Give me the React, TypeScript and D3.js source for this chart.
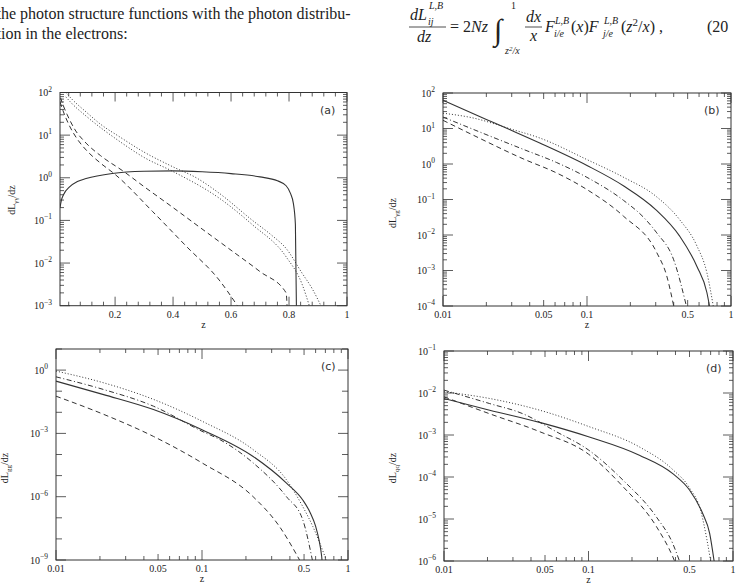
import React from "react";
import * as d3 from "d3";

type Pt = [number, number];

// ---------- Panel (a): dL_γγ/dz, linear z ----------
const aSolid: Pt[] = [[0.01,0.2],[0.015,0.3],[0.022,0.4],[0.044,0.62],[0.07,0.82],[0.1,0.96],[0.19,1.26],[0.3,1.42],[0.4,1.45],[0.5,1.38],[0.6,1.25],[0.7,1.05],[0.76,0.85],[0.79,0.65],[0.805,0.43],[0.815,0.25],[0.822,0.08],[0.826,0.0005]];
const aDotUpper: Pt[] = [[0.03,100],[0.05,71],[0.1,35],[0.15,18],[0.216,9.1],[0.3,4.0],[0.4,1.8],[0.48,1.0],[0.56,0.43],[0.674,0.1],[0.74,0.045],[0.79,0.022],[0.845,0.0058],[0.88,0.0025],[0.91,0.001]];
const aDotLower: Pt[] = [[0.03,79],[0.05,56],[0.1,28],[0.216,7.1],[0.3,3.0],[0.4,1.4],[0.56,0.33],[0.674,0.079],[0.79,0.014],[0.845,0.0032],[0.87,0.001]];
const aDashUpper: Pt[] = [[0.012,75],[0.02,52],[0.035,30],[0.06,14],[0.1,6.5],[0.15,3.3],[0.23,1.4],[0.3,0.62],[0.4,0.2],[0.5,0.063],[0.6,0.02],[0.7,0.0063],[0.79,0.002],[0.795,0.0005]];
const aDashLower: Pt[] = [[0.01,60],[0.02,38],[0.04,18],[0.07,8],[0.1,4.5],[0.15,2.2],[0.2,1.2],[0.33,0.16],[0.445,0.025],[0.559,0.004],[0.622,0.001]];

// ---------- Panel (b): dL_γg/dz ----------
const bSolid: Pt[] = [[0.01,62],[0.02,18],[0.029,9.3],[0.047,3.9],[0.1,0.91],[0.18,0.24],[0.3,0.052],[0.44,0.0093],[0.58,0.0013],[0.68,0.00024],[0.72,0.00007]];
const bDotted: Pt[] = [[0.01,27],[0.016,20],[0.03,9.5],[0.047,5.4],[0.1,1.33],[0.18,0.42],[0.3,0.125],[0.44,0.027],[0.58,0.0049],[0.68,0.00087],[0.76,0.00008]];
const bDashDot: Pt[] = [[0.01,21],[0.021,6.2],[0.036,2.6],[0.0615,1.1],[0.1,0.42],[0.179,0.095],[0.25,0.03],[0.305,0.0115],[0.4,0.002],[0.49,0.0001]];
const bDashed: Pt[] = [[0.01,17],[0.0162,6.5],[0.036,1.4],[0.0615,0.56],[0.1,0.19],[0.179,0.034],[0.305,0.0032],[0.358,0.0007],[0.4,0.0001]];

// ---------- Panel (c): dL_gg/dz ----------
const cDotted: Pt[] = [[0.01,0.9],[0.0212,0.25],[0.0465,0.041],[0.1,0.0038],[0.224,1.7e-4],[0.379,6.3e-6],[0.49,3.4e-7],[0.575,3.8e-8],[0.71,1e-9]];
const cDashDot: Pt[] = [[0.01,0.48],[0.0212,0.12],[0.0465,0.0195],[0.1,0.00126],[0.133,5e-4],[0.224,4e-5],[0.379,1e-6],[0.49,8e-8],[0.57,1e-9]];
const cSolid: Pt[] = [[0.01,0.3],[0.0212,0.069],[0.0465,0.0135],[0.1,0.0015],[0.224,8.1e-5],[0.379,4.4e-6],[0.49,7e-7],[0.55,1.8e-7],[0.6,4e-8],[0.635,8e-9],[0.66,1.5e-9],[0.668,6e-10]];
const cDashed: Pt[] = [[0.01,0.058],[0.0212,0.008],[0.0465,7.2e-4],[0.1,4e-5],[0.224,1e-6],[0.34,3.8e-8],[0.466,1e-9]];

// ---------- Panel (d): dL_qq/dz ----------
const dDotted: Pt[] = [[0.01,1.07e-2],[0.0207,7.4e-3],[0.0459,3.9e-3],[0.1,1.6e-3],[0.225,5.2e-4],[0.383,1.5e-4],[0.5,5.5e-5],[0.6,1.5e-5],[0.66,3.2e-6],[0.7,1e-6]];
const dDashDot: Pt[] = [[0.01,1.17e-2],[0.0207,5.6e-3],[0.0352,3.2e-3],[0.0598,1.2e-3],[0.1,4.4e-4],[0.174,8.3e-5],[0.296,1.1e-5],[0.383,2.6e-6],[0.426,1e-6]];
const dSolid: Pt[] = [[0.01,7.4e-3],[0.0207,3.9e-3],[0.0459,2.0e-3],[0.1,9.1e-4],[0.225,3.3e-4],[0.383,1.2e-4],[0.5,4.9e-5],[0.617,1.35e-5],[0.69,4.5e-6],[0.74,1e-6]];
const dDashed: Pt[] = [[0.01,8.1e-3],[0.0207,3.2e-3],[0.0459,1.2e-3],[0.1,3.5e-4],[0.174,5.8e-5],[0.296,6.5e-6],[0.383,1.26e-6],[0.394,1e-6]];

// ---------- tick labels ----------
const linXTicks = [0.2, 0.4, 0.6, 0.8, 1];
const linXTickLabels = ["0.2", "0.4", "0.6", "0.8", "1"];
const logXTicks = [0.01, 0.05, 0.1, 0.5, 1];
const logXTickLabels = ["0.01", "0.05", "0.1", "0.5", "1"];

type Style = "solid" | "dotted" | "dashed" | "dashdot";
const DASH: Record<Style, string | undefined> = {
  solid: undefined,
  dotted: "1 2",
  dashed: "5 3.5",
  dashdot: "5 2.5 1 2.5",
};

const SERIF = "'Liberation Serif', 'Times New Roman', 'DejaVu Serif', serif";
const INK = "#333";

interface PanelProps {
  id: string;
  x0: number; x1: number; y0: number; y1: number;
  xLog: boolean;
  yDomain: [number, number];
  yLabeled: number[];
  yMinor: boolean;
  series: { data: Pt[]; style: Style }[];
  tag: string;
  sub: string;
  titleX: number; titleY: number;
}

function Panel(p: PanelProps) {
  const x: any = p.xLog
    ? d3.scaleLog().domain([0.01, 1]).range([p.x0, p.x1])
    : d3.scaleLinear().domain([0.01, 1]).range([p.x0, p.x1]);
  const y = d3.scaleLog().domain(p.yDomain).range([p.y1, p.y0]);
  const line = d3.line<Pt>().x(d => x(d[0])).y(d => y(d[1])).curve(d3.curveMonotoneX);

  const xt: { v: number; len: number }[] = [];
  if (p.xLog) {
    for (let e = -2; e <= 0; e++) {
      for (let k = 1; k <= 9; k++) {
        const v = k * Math.pow(10, e);
        if (v > 1.0001) break;
        xt.push({ v, len: k === 1 ? 10 : k === 5 ? 6 : 4 });
      }
    }
  } else {
    for (let i = 1; i <= 25; i++) {
      const v = i * 0.04;
      const major = i % 5 === 0;
      xt.push({ v, len: major ? 9 : 4 });
    }
  }
  const yt: { v: number; len: number }[] = [];
  const e0 = Math.round(Math.log10(p.yDomain[0]));
  const e1 = Math.round(Math.log10(p.yDomain[1]));
  for (let e = e0; e <= e1; e++) {
    const base = Math.pow(10, e);
    yt.push({ v: base, len: p.yLabeled.includes(e) ? 10 : 6 });
    if (p.yMinor && e < e1) {
      for (let k = 2; k <= 9; k++) yt.push({ v: k * base, len: 4 });
    }
  }

  const xTickVals = p.xLog ? logXTicks : linXTicks;
  const xTickLabs = p.xLog ? logXTickLabels : linXTickLabels;

  return (
    <g>
      <defs>
        <clipPath id={p.id}>
          <rect x={p.x0} y={p.y0} width={p.x1 - p.x0} height={p.y1 - p.y0} />
        </clipPath>
      </defs>
      <rect x={p.x0} y={p.y0} width={p.x1 - p.x0} height={p.y1 - p.y0} fill="none" stroke={INK} strokeWidth={1} />
      {xt.map((t, i) => (
        <g key={"xt" + i} stroke={INK} strokeWidth={0.8}>
          <line x1={x(t.v)} x2={x(t.v)} y1={p.y1} y2={p.y1 - t.len} />
          <line x1={x(t.v)} x2={x(t.v)} y1={p.y0} y2={p.y0 + t.len} />
        </g>
      ))}
      {yt.map((t, i) => (
        <g key={"yt" + i} stroke={INK} strokeWidth={0.8}>
          <line x1={p.x0} x2={p.x0 + t.len} y1={y(t.v)} y2={y(t.v)} />
          <line x1={p.x1} x2={p.x1 - t.len} y1={y(t.v)} y2={y(t.v)} />
        </g>
      ))}
      {xTickVals.map((v, i) => (
        <text key={"xl" + i} x={x(v)} y={p.y1 + 12} textAnchor="middle" fontSize={10} fontFamily={SERIF} fill="#222">
          {xTickLabs[i]}
        </text>
      ))}
      {p.yLabeled.map(e => (
        <text key={"yl" + e} x={p.x0 - 8} y={y(Math.pow(10, e)) + 3.5} textAnchor="end" fontSize={10} fontFamily={SERIF} fill="#222">
          10<tspan dy={-4.5} fontSize={7.5}>{e < 0 ? "\u2212" + Math.abs(e) : String(e)}</tspan>
        </text>
      ))}
      <text x={(p.x0 + p.x1) / 2} y={p.y1 + 22} textAnchor="middle" fontSize={10} fontFamily={SERIF} fill="#222">z</text>
      <text transform={`translate(${p.titleX},${p.titleY}) rotate(-90)`} textAnchor="middle" fontSize={10} fontFamily={SERIF} fill="#222">
        dL<tspan dy={2.5} fontSize={7}>{p.sub}</tspan><tspan dy={-2.5}>/dz</tspan>
      </text>
      <text x={p.x1 - 27} y={p.y0 + 21} fontSize={11} fontFamily="'DejaVu Sans', sans-serif" fill="#333">{p.tag}</text>
      <g clipPath={`url(#${p.id})`}>
        {p.series.map((s, i) => (
          <path key={"s" + i} d={line(s.data) || ""} fill="none" stroke={INK}
            strokeWidth={s.style === "solid" ? 1.1 : 1} strokeDasharray={DASH[s.style]} />
        ))}
      </g>
    </g>
  );
}

function Equation() {
  const it = { fontFamily: SERIF, fontStyle: "italic" as const, fill: "#222" };
  const rm = { fontFamily: SERIF, fill: "#222" };
  return (
    <g>
      <text x={410} y={20} fontSize={16} {...it}>dL</text>
      <text x={429} y={9} fontSize={10} {...it}>L,B</text>
      <text x={428} y={25} fontSize={10} {...it}>ij</text>
      <line x1={409} x2={446} y1={27} y2={27} stroke="#222" strokeWidth={0.8} />
      <text x={417} y={42} fontSize={16} {...it}>dz</text>
      <text x={450} y={32} fontSize={16} {...rm}>= 2<tspan {...it}>Nz</tspan></text>
      <text x={494} y={40} fontSize={30} {...rm}>∫</text>
      <text x={511} y={9} fontSize={10} {...rm}>1</text>
      <text x={505} y={54} fontSize={10} {...it}>z<tspan dy={-3} fontSize={7}>2</tspan><tspan dy={3}>/x</tspan></text>
      <text x={526} y={22} fontSize={16} {...it}>dx</text>
      <line x1={525} x2={542} y1={27} y2={27} stroke="#222" strokeWidth={0.8} />
      <text x={530} y={41} fontSize={16} {...it}>x</text>
      <text x={545} y={32} fontSize={16} {...it}>F</text>
      <text x={555} y={24} fontSize={10} {...it}>L,B</text>
      <text x={554} y={37} fontSize={10} {...it}>i/e</text>
      <text x={571} y={32} fontSize={16} {...rm}>(<tspan {...it}>x</tspan>)<tspan {...it}>F</tspan></text>
      <text x={604} y={24} fontSize={10} {...it}>L,B</text>
      <text x={603} y={37} fontSize={10} {...it}>j/e</text>
      <text x={621} y={32} fontSize={16} {...rm}>(<tspan {...it}>z</tspan><tspan dy={-6} fontSize={11}>2</tspan><tspan dy={6}>/</tspan><tspan {...it}>x</tspan>) ,</text>
      <text x={707} y={32} fontSize={16} {...rm}>(20</text>
    </g>
  );
}

export default function App() {
  return (
    <svg width={738} height={588} viewBox="0 0 738 588" style={{ position: "absolute", left: 0, top: 0, background: "#fff" }}>
      <rect x={0} y={0} width={738} height={588} fill="#fff" />
      <text x={-3.5} y={19} fontSize={16} fontFamily={SERIF} fill="#222">the photon structure functions with the photon distribu-</text>
      <text x={-3.5} y={39} fontSize={16} fontFamily={SERIF} fill="#222">tion in the electrons:</text>
      <Equation />
      <Panel id="ca" x0={60} x1={347} y0={92.5} y1={305.7} xLog={false} yDomain={[1e-3, 1e2]}
        yLabeled={[-3, -2, -1, 0, 1, 2]} yMinor={true}
        series={[
          { data: aSolid, style: "solid" },
          { data: aDotUpper, style: "dotted" },
          { data: aDotLower, style: "dotted" },
          { data: aDashUpper, style: "dashed" },
          { data: aDashLower, style: "dashed" },
        ]}
        tag="(a)" sub="γγ" titleX={15} titleY={200} />
      <Panel id="cb" x0={443} x1={731} y0={93} y1={306} xLog={true} yDomain={[1e-4, 1e2]}
        yLabeled={[-4, -3, -2, -1, 0, 1, 2]} yMinor={true}
        series={[
          { data: bSolid, style: "solid" },
          { data: bDotted, style: "dotted" },
          { data: bDashDot, style: "dashdot" },
          { data: bDashed, style: "dashed" },
        ]}
        tag="(b)" sub="γg" titleX={396} titleY={213} />
      <Panel id="cc" x0={56} x1={348} y0={349} y1={560} xLog={true} yDomain={[1e-9, 1e1]}
        yLabeled={[-9, -6, -3, 0]} yMinor={false}
        series={[
          { data: cSolid, style: "solid" },
          { data: cDotted, style: "dotted" },
          { data: cDashDot, style: "dashdot" },
          { data: cDashed, style: "dashed" },
        ]}
        tag="(c)" sub="gg" titleX={8} titleY={468} />
      <Panel id="cd" x0={444} x1={733} y0={351} y1={561} xLog={true} yDomain={[1e-6, 1e-1]}
        yLabeled={[-6, -5, -4, -3, -2, -1]} yMinor={true}
        series={[
          { data: dSolid, style: "solid" },
          { data: dDotted, style: "dotted" },
          { data: dDashDot, style: "dashdot" },
          { data: dDashed, style: "dashed" },
        ]}
        tag="(d)" sub="qq" titleX={396} titleY={468} />
    </svg>
  );
}
